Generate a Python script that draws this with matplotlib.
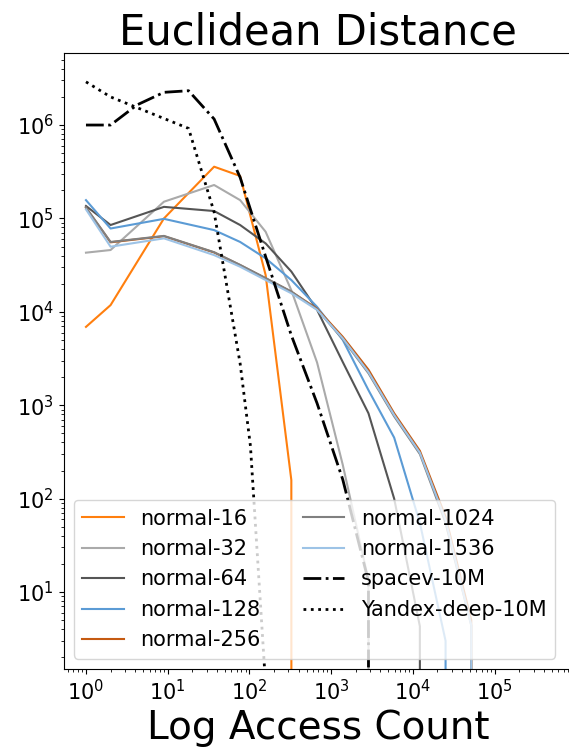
import matplotlib
matplotlib.use("Agg")
import matplotlib.pyplot as plt

# Access-count bins (x) for the synthetic "normal-d" datasets
x_normal = [1, 2, 9, 37, 77, 158, 326, 673, 1389, 2865, 5911, 12195, 25158, 51902, 107000]
# Bins for the real-world datasets
x_spacev = [1, 2, 4.2, 9, 18, 37, 77, 158, 326, 673, 1389, 2865, 5911]
x_yandex = [1, 2, 18, 37, 77, 103, 158]

normal_16 = [6900, 11800, 100000, 358000, 285000, 24800, 158, 0]
normal_32 = [43000, 45900, 151000, 228000, 157000, 72000, 17000, 2870, 230, 13.4, 0]
normal_64 = [136000, 85000, 133000, 120000, 85000, 54000, 27000, 10500, 2900, 820, 100, 4.3, 0]
normal_128 = [157000, 78000, 99000, 75000, 56000, 37400, 21900, 11300, 5000, 1450, 450, 55, 3, 0]
normal_256 = [130000, 55500, 64500, 43200, 31600, 22800, 16400, 10800, 5400, 2400, 820, 325, 64, 5, 0]
normal_1024 = [131000, 56000, 65000, 43500, 31800, 23000, 16500, 10600, 5100, 2200, 760, 300, 55, 4.4, 0]
normal_1536 = [125000, 49800, 61200, 40500, 30400, 21900, 15800, 10500, 5200, 2260, 785, 310, 59, 4.4, 0]
spacev_10m = [1.0e6, 1.0e6, 1.64e6, 2.24e6, 2.33e6, 1.16e6, 2.75e5, 3.9e4, 5600, 1050, 160, 13, 0]
yandex_10m = [2.9e6, 2.0e6, 9.2e5, 1.17e5, 2800, 365, 1]

labels = ["normal-16", "normal-32", "normal-64", "normal-128", "normal-256",
          "normal-1024", "normal-1536", "spacev-10M", "Yandex-deep-10M"]
x_ticks = [1e0, 1e1, 1e2, 1e3, 1e4, 1e5]
y_ticks = [1e1, 1e2, 1e3, 1e4, 1e5, 1e6]

fig = plt.figure(figsize=(5.69, 7.51), dpi=100)
ax = fig.add_axes([0.1116, 0.1092, 0.8954, 0.8202])

normal_series = [normal_16, normal_32, normal_64, normal_128, normal_256, normal_1024, normal_1536]
normal_colors = ["#ff7f0e", "#aaaaaa", "#555555", "#5b9bd5", "#c55a11", "#808080", "#9dc3e6"]
for ys, c, lab in zip(normal_series, normal_colors, labels[:7]):
    ax.plot(x_normal[:len(ys)], ys, color=c, lw=1.5, label=lab)

ax.plot(x_spacev, spacev_10m, color="black", lw=2, ls="-.", label=labels[7])
ax.plot(x_yandex, yandex_10m, color="black", lw=2, ls=":", label=labels[8])

ax.set_xscale("log")
ax.set_yscale("log")
ax.set_xticks(x_ticks)
ax.set_yticks(y_ticks)
ax.set_xlim(10 ** -0.275, 10 ** 5.96)
ax.set_ylim(10 ** 0.176, 10 ** 6.771)

ax.tick_params(axis="both", which="major", labelsize=15)
ax.set_title("Euclidean Distance", fontsize=30)
ax.set_xlabel("Log Access Count", fontsize=28)

ax.legend(loc="lower left", ncol=2, fontsize=15)

fig.savefig("out.png", dpi=100)
